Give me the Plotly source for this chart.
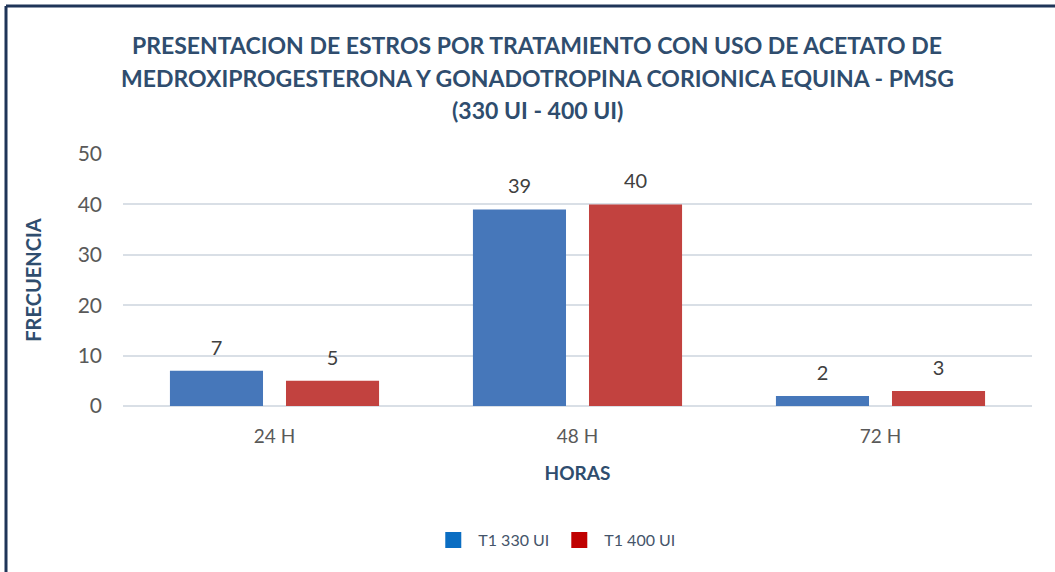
import plotly.graph_objects as go

categories = ["24 H", "48 H", "72 H"]
t1_330 = [7, 39, 2]
t1_400 = [5, 40, 3]
series_names = ["T1 330 UI", "T1 400 UI"]
y_ticks = [0, 10, 20, 30, 40, 50]

title_lines = ["PRESENTACION DE ESTROS POR TRATAMIENTO CON USO DE ACETATO DE",
               "MEDROXIPROGESTERONA Y GONADOTROPINA CORIONICA EQUINA - PMSG",
               "(330 UI - 400 UI)"]
title_y_px = [45, 78, 110]

W, H = 1055, 572
ML, MR, MT, MB = 123, 23, 154, 166
PW, PH = W - ML - MR, H - MT - MB
FONT = "Lato, sans-serif"
NAVY = "#2F4D6E"
BARGAP = 0.234

def px_x(p):
    return (p - ML) / PW

def px_y(p):
    return (H - MB - p) / PH

fig = go.Figure()
bar_colors = ["#4677BA", "#C2423F"]
legend_colors = ["#0A6DC2", "#C00000"]
for i, (name, vals, bc) in enumerate(zip(series_names, [t1_330, t1_400], bar_colors)):
    fig.add_trace(go.Bar(
        x=categories, y=vals, name=name, marker=dict(color=bc, line=dict(width=0)),
        offsetgroup=str(i), showlegend=False,
    ))
for i, (name, vals) in enumerate(zip(series_names, [t1_330, t1_400])):
    fig.add_trace(go.Scatter(
        x=categories, y=vals, mode="markers+text", text=[str(v) for v in vals],
        textposition="top center", offsetgroup=str(i), cliponaxis=False,
        marker=dict(size=16, opacity=0, color="white"),
        textfont=dict(family=FONT, size=20, color="#404040"),
        showlegend=False, hoverinfo="skip",
    ))
for name, lc in zip(series_names, legend_colors):
    fig.add_trace(go.Scatter(x=[None], y=[None], name=name, mode="markers",
                             marker=dict(color=lc, symbol="square", size=30), showlegend=True))

annotations = [dict(text=f"<b>{t}</b>", xref="paper", yref="paper", x=px_x(537), y=px_y(yp),
                    xanchor="center", yanchor="middle", showarrow=False,
                    font=dict(family=FONT, size=23, color=NAVY))
               for t, yp in zip(title_lines, title_y_px)]

fig.update_layout(
    width=W, height=H,
    margin=dict(l=ML, r=MR, t=MT, b=MB),
    paper_bgcolor="white", plot_bgcolor="white",
    barmode="group", bargap=BARGAP, bargroupgap=0.198,
    scattermode="group", scattergap=BARGAP,
    font=dict(family=FONT, color="#595959"),
    xaxis=dict(tickfont=dict(size=19, color="#595959"), showgrid=False, showline=False,
               ticks="", ticklabelstandoff=17,
               title=dict(text="<b>HORAS</b>", font=dict(size=19, color=NAVY), standoff=20)),
    yaxis=dict(range=[0, 50], tickvals=y_ticks, tickfont=dict(size=21, color="#595959"),
               gridcolor="#D9DFE6", gridwidth=1.5, zeroline=True, zerolinecolor="#D9DFE6", zerolinewidth=1.5,
               ticks="", ticklabelstandoff=20,
               title=dict(text="<b>FRECUENCIA</b>", font=dict(size=20, color=NAVY), standoff=30)),
    legend=dict(orientation="h", x=0.475, xanchor="center", y=px_y(540), yanchor="middle",
                font=dict(size=16, color="#44546A"), itemwidth=40, traceorder="normal",
                itemsizing="trace"),
    annotations=annotations,
    shapes=[
        dict(type="line", xref="paper", yref="paper", x0=px_x(6), x1=px_x(6), y0=px_y(6), y1=px_y(H),
             line=dict(color="#1F3558", width=3)),
        dict(type="line", xref="paper", yref="paper", x0=px_x(6), x1=px_x(W), y0=px_y(6), y1=px_y(6),
             line=dict(color="#1F3558", width=3)),
    ],
)
fig.write_html("out.html", config={"displayModeBar": False},
               post_script="document.body.style.margin='0';")
